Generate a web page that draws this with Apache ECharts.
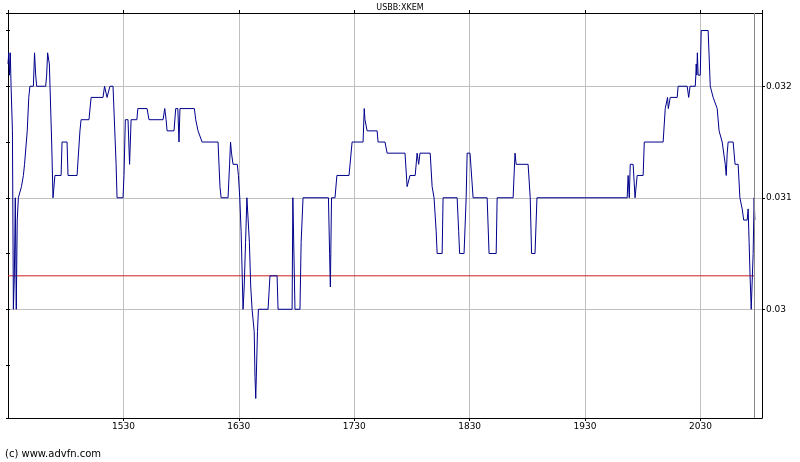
<!DOCTYPE html>
<html><head><meta charset="utf-8">
<script src="https://cdn.jsdelivr.net/npm/echarts@6/dist/echarts.min.js"></script>
<style>html,body{margin:0;padding:0;background:#fff}#c{width:800px;height:462px}</style>
</head><body><div id="c"></div>
<script>
const chartTitle = 'USBB:XKEM';
const credit = '(c) www.advfn.com';
// minutes after 14:30
const times = [0,0.4,0.8,1.2,1.6,2.3,2.8,3.3,3.8,4.3,4.8,5.4,6.2,7,8,8.6,9.2,10,10.8,11.4,13.2,13.8,14.4,14.9,19.6,20.1,20.6,21.5,22.7,23.4,24.4,27.6,28.1,30.7,31.2,35.9,37.4,38,42.1,43.2,49.4,50.2,51,51.5,52.5,53,54.6,56.2,56.7,59.8,60.3,61,62.4,63.2,64,67,67.5,72.3,73.3,80.6,81.5,82.2,82.7,86.3,87.2,88.3,88.9,89.4,96.9,97.6,98.8,99.8,100.9,109.2,110.2,110.8,114.4,115.2,115.7,116.2,117,119.2,119.8,120.5,121.2,122.2,122.8,123.5,124.2,124.9,125.5,126.2,126.9,127.6,128,128.4,128.8,129.3,129.7,130.2,135.2,136.2,139.9,140.4,147.7,148.1,148.6,149.2,151.8,152.4,153.4,166.6,167.2,167.6,168.2,170,171,177.3,178.9,184.6,185.2,185.6,186.7,191.9,192.4,196,197.1,206.4,207.5,209,211.7,212.7,213.5,214.2,219.5,220.5,221.5,222.6,223.1,225.7,226.2,233.5,234.3,234.8,237.1,238.2,238.7,240.2,241.8,249.1,250.1,253.8,254.3,262.6,263.6,264.2,270.4,271.5,272.2,274,275,321.9,322.4,323,323.5,325,326,327.1,330.2,330.8,340.6,341.7,342.5,342.9,343.3,344,344.3,347.9,348.4,353.1,353.9,354.6,357.3,357.6,357.8,358.1,358.4,358.8,359.9,360.4,364,365.1,366.6,368.7,369.7,371.3,372.3,372.9,373.4,373.9,374.4,377,378,379.6,380.5,381.7,382.5,384.3,384.8,385.3,385.8,386.4,386.9,387.4,387.9,388.3];
const prices = [0.0322,0.0323,0.0321,0.0323,0.0320,0.0316,0.0300,0.0303,0.0310,0.0300,0.0308,0.0310,0.0310,0.0311,0.0312,0.0313,0.0313,0.0316,0.0319,0.0320,0.0320,0.0323,0.0321,0.0320,0.0320,0.0321,0.0323,0.0322,0.0315,0.0310,0.0312,0.0312,0.0315,0.0315,0.0312,0.0312,0.0316,0.0317,0.0317,0.0319,0.0319,0.0320,0.0320,0.0319,0.0319,0.0320,0.0320,0.0313,0.0310,0.0310,0.0312,0.0317,0.0317,0.0313,0.0317,0.0317,0.0318,0.0318,0.0317,0.0317,0.0318,0.0317,0.0316,0.0316,0.0318,0.0318,0.0315,0.0318,0.0318,0.0317,0.0316,0.0316,0.0315,0.0315,0.0311,0.0310,0.0310,0.0313,0.0315,0.0314,0.0313,0.0313,0.0312,0.0310,0.0307,0.0300,0.0302,0.0306,0.0310,0.0310,0.0306,0.0302,0.0300,0.0300,0.0298,0.0294,0.0292,0.0292,0.0298,0.0300,0.0300,0.0303,0.0303,0.0300,0.0300,0.0310,0.0310,0.0300,0.0300,0.0306,0.0310,0.0310,0.0305,0.0302,0.0310,0.0310,0.0312,0.0312,0.0315,0.0315,0.0318,0.0317,0.0316,0.0316,0.0315,0.0315,0.0314,0.0314,0.0311,0.0312,0.0312,0.0314,0.0313,0.0314,0.0314,0.0311,0.0310,0.0307,0.0305,0.0305,0.0310,0.0310,0.0307,0.0305,0.0305,0.0310,0.0314,0.0314,0.0310,0.0310,0.0305,0.0305,0.0310,0.0310,0.0314,0.0313,0.0313,0.0310,0.0305,0.0305,0.0310,0.0310,0.0312,0.0310,0.0313,0.0313,0.0310,0.0312,0.0312,0.0315,0.0315,0.0318,0.0318,0.0319,0.0318,0.0318,0.0319,0.0319,0.0320,0.0320,0.0319,0.0320,0.0320,0.0321,0.0322,0.0321,0.0323,0.0321,0.0321,0.0325,0.0325,0.0320,0.0319,0.0318,0.0316,0.0315,0.0315,0.0313,0.0312,0.0314,0.0315,0.0315,0.0313,0.0313,0.0310,0.0309,0.0308,0.0308,0.0309,0.0306,0.0303,0.0300,0.0300,0.0305,0.0310,0.0308];
const refPrice = 0.0303;
const nowMinute = 388;
const xTickLabels = ['1530','1630','1730','1830','1930','2030'];
const yTickLabels = ['0.03','0.031','0.032'];

const X_MIN = 0, X_MAX = 392;
const Y_MIN = 0.029025, Y_MAX = 0.032657;
const FONT = 'DejaVu Sans';

const chart = echarts.init(document.getElementById('c'), null, {renderer: 'canvas'});
const yLabelVals = yTickLabels.map(Number);
const yFmt = v => {
  for (let i = 0; i < yLabelVals.length; i++) if (Math.abs(v - yLabelVals[i]) < 1e-7) return yTickLabels[i];
  return '';
};
const xFmt = v => {
  const k = Math.round(v / 60);
  if (Math.abs(v - k * 60) < 1e-6 && k >= 1 && k <= xTickLabels.length) return xTickLabels[k - 1];
  return '';
};
const frameAxisLine = {show: true, onZero: false, lineStyle: {color: '#000', width: 1}};

chart.setOption({
  animation: false,
  backgroundColor: '#fff',
  title: [
    {text: chartTitle, left: 400, top: 3, textAlign: 'center', padding: 0,
     textStyle: {fontFamily: FONT, fontSize: 8, fontWeight: 'normal', color: '#000', lineHeight: 10}},
    {text: credit, left: 5, top: 448, padding: 0,
     textStyle: {fontFamily: FONT, fontSize: 10, fontWeight: 'normal', color: '#000', lineHeight: 12}}
  ],
  grid: {left: 8, right: 38, top: 13, bottom: 44, containLabel: false},
  xAxis: [
    {type: 'value', min: X_MIN, max: X_MAX, minInterval: 60, maxInterval: 60, position: 'bottom',
     axisLine: frameAxisLine, axisTick: {show: true, length: 3, lineStyle: {color: '#000'}},
     axisLabel: {formatter: xFmt, fontFamily: FONT, fontSize: 9, color: '#000', margin: 4, showMinLabel: false, showMaxLabel: false},
     splitLine: {show: true, lineStyle: {color: '#c0c0c0', width: 1}}},
    {type: 'value', min: X_MIN, max: X_MAX, minInterval: 60, maxInterval: 60, position: 'top',
     axisLine: frameAxisLine, axisTick: {show: true, length: 3, lineStyle: {color: '#000'}},
     axisLabel: {show: false}, splitLine: {show: false}}
  ],
  yAxis: [
    {type: 'value', min: Y_MIN, max: Y_MAX, minInterval: 0.001, maxInterval: 0.001, position: 'right',
     axisLine: frameAxisLine, axisTick: {show: true, length: 3, lineStyle: {color: '#000'}},
     axisLabel: {formatter: yFmt, fontFamily: FONT, fontSize: 9, color: '#000', margin: 4, showMinLabel: false, showMaxLabel: false},
     splitLine: {show: true, lineStyle: {color: '#c0c0c0', width: 1}}},
    {type: 'value', min: Y_MIN, max: Y_MAX, minInterval: 0.0005, maxInterval: 0.0005, position: 'left',
     axisLine: frameAxisLine, axisTick: {show: true, inside: true, length: 2, lineStyle: {color: '#000'}},
     axisLabel: {show: false}, splitLine: {show: false}},
    {type: 'value', min: Y_MIN, max: Y_MAX, minInterval: 0.0005, maxInterval: 0.0005, position: 'right',
     axisLine: {show: false}, axisTick: {show: true, inside: true, length: 2, lineStyle: {color: '#000'}},
     axisLabel: {show: false}, splitLine: {show: false}}
  ],
  series: [
    {type: 'line', xAxisIndex: 0, yAxisIndex: 0, z: 2,
     data: [[X_MIN, refPrice], [nowMinute, refPrice]],
     showSymbol: false, symbol: 'none', silent: true,
     lineStyle: {color: '#cc2020', width: 1},
     markLine: {silent: true, symbol: 'none', label: {show: false},
       lineStyle: {color: '#888', type: 'solid', width: 1},
       data: [{xAxis: nowMinute}]}},
    {type: 'line', xAxisIndex: 0, yAxisIndex: 0, z: 3,
     data: times.map((t, i) => [t, prices[i]]),
     showSymbol: false, symbol: 'none', silent: true,
     lineStyle: {color: '#00008c', width: 1}}
  ]
});
</script></body></html>
